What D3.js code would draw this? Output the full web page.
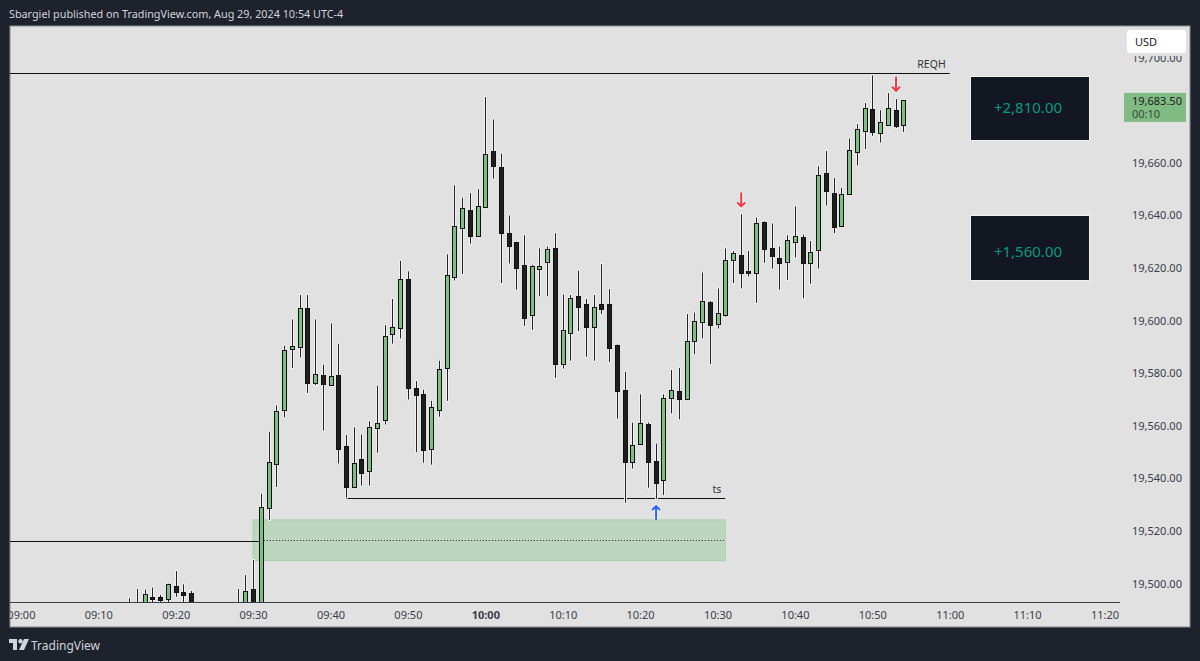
<!DOCTYPE html>
<html lang="en-US">
<head>
<meta charset="UTF-8" />
<title>Sbargiel published on TradingView.com</title>
<script src="https://cdnjs.cloudflare.com/ajax/libs/d3/7.8.5/d3.min.js"></script>
<style>
  html, body { margin: 0; padding: 0; background: #1e222d; }
  svg { display: block; }
  text { font-family: "Noto Sans", sans-serif; }
</style>
</head>
<body>
<svg id="chart" width="1200" height="661"></svg>
<script>
// 1 minute candles, 09:23 - 09:27 sit below the visible range so are left out
var times = ["09:14","09:15","09:16","09:17","09:18","09:19","09:20","09:21","09:22",
  "09:28","09:29","09:30","09:31","09:32","09:33","09:34","09:35","09:36","09:37","09:38","09:39",
  "09:40","09:41","09:42","09:43","09:44","09:45","09:46","09:47","09:48","09:49",
  "09:50","09:51","09:52","09:53","09:54","09:55","09:56","09:57","09:58","09:59",
  "10:00","10:01","10:02","10:03","10:04","10:05","10:06","10:07","10:08","10:09",
  "10:10","10:11","10:12","10:13","10:14","10:15","10:16","10:17","10:18","10:19",
  "10:20","10:21","10:22","10:23","10:24","10:25","10:26","10:27","10:28","10:29",
  "10:30","10:31","10:32","10:33","10:34","10:35","10:36","10:37","10:38","10:39",
  "10:40","10:41","10:42","10:43","10:44","10:45","10:46","10:47","10:48","10:49",
  "10:50","10:51","10:52","10:53","10:54"];
var opens = [19487,19490,19488,19494.75,19494.75,19493.75,19499,19496.5,19496.25,
  19490,19490,19497.75,19488,19528.5,19545.5,19565.75,19589,19589.75,19604.5,19576,19579,
  19575.25,19579.25,19552,19536.5,19547,19542.75,19559.25,19561.75,19594.5,19596.75,
  19615.5,19574.25,19571.75,19550.75,19566,19581.5,19616.5,19635,19641.75,19631.75,
  19643,19664.25,19658,19633.25,19629.5,19621,19602,19619.5,19622,19627.25,
  19583.5,19595.25,19609,19606.25,19597.5,19606,19606.25,19590.5,19573.5,19546,
  19553,19560.5,19546.5,19539,19570.5,19573,19570,19592,19599.25,19607,
  19598.5,19602.25,19623,19624.75,19618.75,19618,19637.25,19627.25,19623.75,19622,
  19629.5,19631.5,19621.5,19626.5,19655.75,19648.25,19635.5,19647.75,19663.75,19672,
  19680.25,19671.25,19674,19679.75,19674];
var highs = [19494.25,19497.75,19497.5,19498.25,19495.5,19499.75,19504.5,19499.5,19497,
  19497.75,19503,19508.75,19534,19557.5,19567.5,19590.25,19600.25,19609.5,19609.5,19600.25,19583,
  19598.75,19591,19556.25,19559.25,19556.5,19561.5,19575,19598,19608,19622.5,
  19618.5,19576.75,19573.5,19569.25,19584.5,19625,19651.25,19646.5,19648.25,19649.75,
  19684.75,19676.25,19663.25,19639.75,19629.75,19632.25,19621,19627.25,19628,19633,
  19609.75,19609.5,19618.75,19608,19609.5,19621.25,19611.75,19590.75,19580.25,19561,
  19571.75,19561,19553,19571.75,19581,19581.75,19602.25,19602.75,19618,19607.25,
  19612,19627.25,19626.25,19640.25,19626.25,19639,19637.5,19636.75,19628,19632.25,
  19643.25,19632.5,19630,19658.5,19664.25,19654,19650.25,19669,19674.5,19682.5,
  19693,19679.75,19686.25,19684,19683.5];
var lows = [19484,19486,19486,19492,19492,19492,19494.75,19492.75,19488,
  19485,19488,19485,19486,19524,19536.5,19563,19581.75,19585.75,19572.25,19575.25,19558,
  19575,19545.5,19532.5,19536,19537,19537,19549.5,19560.25,19591,19593,
  19569.75,19549.75,19545.75,19545,19563.25,19569.25,19615,19617.5,19629,19631.5,
  19642.75,19653.75,19614,19621.5,19611.5,19597.75,19596.25,19609,19609,19578,
  19581.5,19584.5,19595.75,19586,19584.5,19602.25,19584,19562.5,19530.5,19543.5,
  19552.75,19536.25,19532,19533.5,19564.5,19562.25,19570,19587,19593,19583.25,
  19596.75,19601.25,19614,19612,19616.5,19606.5,19621.75,19619.5,19611.5,19615.25,
  19623.75,19608.25,19613.75,19619.5,19643.5,19633,19635.25,19647.5,19658.75,19665,
  19670,19667.5,19674,19673,19671.5];
var closes = [19486,19488,19496,19494,19493.5,19499.5,19496.75,19495.25,19490,
  19488,19497,19488,19529,19546,19565.5,19588.5,19590.25,19604.75,19576,19579.5,19575.5,
  19578.75,19551,19536.5,19545.5,19541.75,19559.5,19561,19593.75,19597.25,19615.5,
  19574,19571.5,19550.5,19566.75,19581.5,19617,19635.75,19642.5,19632,19643.25,
  19663.25,19658.5,19632.75,19628.25,19619.5,19601,19620.5,19620.5,19627,19583,
  19596.25,19608.5,19605,19597.5,19605,19604.25,19589.5,19573,19546,19552.5,
  19561,19546,19538,19570.25,19573.5,19570,19592,19599.5,19607.25,19598.25,
  19602.5,19623,19625.5,19618,19618,19637,19627,19624.25,19621.75,19630.25,
  19631.75,19621.75,19625.75,19655,19649,19635.5,19647.75,19664.5,19672.5,19680.75,
  19671.5,19675.25,19680.5,19673.75,19683.5];

var priceTicks = [19500,19520,19540,19560,19580,19600,19620,19640,19660,19700];
var timeTicks = ["09:00","09:10","09:20","09:30","09:40","09:50","10:00","10:10","10:20","10:30","10:40","10:50","11:00","11:10","11:20"];

var lastPrice = 19683.5;
var countdown = "00:10";
var titleText = "Sbargiel published on TradingView.com, Aug 29, 2024 10:54 UTC-4";

// annotations drawn on the chart
var levelLines = [
  {from: "08:58", to: "11:00", price: 19693.75, label: "REQH"},
  {from: "09:42", to: "10:31", price: 19532.5, label: "ts"},
  {from: "08:58", to: "09:31", price: 19516, label: ""}
];
var zone = {from: "09:30", to: "10:31", top: 19524, bottom: 19508.5, mid: 19516.25};
var arrows = [
  {time: "10:22", price: 19529.25, dir: "up", color: "#2962ff"},
  {time: "10:33", price: 19648.5, dir: "down", color: "#f23645"},
  {time: "10:53", price: 19692.5, dir: "down", color: "#f23645"}
];
var pnlLabels = ["+2,810.00", "+1,560.00"];

var W = 1200, H = 661;
var pane = {l: 10, t: 26, r: 1190, b: 627, axisY: 602};
var PAGE = "#1e222d", BG = "#e1e1e1", UP = "#7fbd84", DOWN = "#1e1e1e", LABEL = "#3a3e4a";
var BODY_W = 5;

var parseT = d3.timeParse("%H:%M");
var x = d3.scaleTime().domain([parseT("09:00"), parseT("11:20")]).range([20.9, 1104.5]);
var y = d3.scaleLinear().domain([19500, 19700]).range([583, 57]);

var svg = d3.select("#chart");
svg.append("rect").attr("width", W).attr("height", H).attr("fill", PAGE);
svg.append("rect").attr("x", pane.l).attr("y", pane.t)
  .attr("width", pane.r - pane.l).attr("height", pane.b - pane.t)
  .attr("fill", BG).attr("stroke", "#8a8d94").attr("stroke-width", 1);

var defs = svg.append("defs");
defs.append("clipPath").attr("id", "plot").append("rect")
  .attr("x", pane.l).attr("y", pane.t).attr("width", 1110).attr("height", pane.axisY - pane.t);
defs.append("clipPath").attr("id", "pane-clip").append("rect")
  .attr("x", pane.l).attr("y", pane.t).attr("width", pane.r - pane.l).attr("height", pane.b - pane.t);
var plot = svg.append("g").attr("clip-path", "url(#plot)");

// green zone and dotted mid line
plot.append("rect")
  .attr("x", x(parseT(zone.from))).attr("y", y(zone.top))
  .attr("width", x(parseT(zone.to)) - x(parseT(zone.from)))
  .attr("height", y(zone.bottom) - y(zone.top))
  .attr("fill", "#bcd7bd").attr("stroke", "#a9d0ab").attr("stroke-width", 1);
plot.append("line")
  .attr("x1", x(parseT("09:31"))).attr("x2", x(parseT(zone.to)))
  .attr("y1", Math.round(y(zone.mid)) + 0.5).attr("y2", Math.round(y(zone.mid)) + 0.5)
  .attr("stroke", "#222").attr("stroke-width", 1).attr("stroke-dasharray", "1 2");

// level lines
levelLines.forEach(function(d) {
  var yy = Math.round(y(d.price)) + 0.5;
  plot.append("line")
    .attr("x1", x(parseT(d.from))).attr("x2", x(parseT(d.to)))
    .attr("y1", yy).attr("y2", yy).attr("stroke", "#111").attr("stroke-width", 1);
  if (d.label) plot.append("text")
    .attr("x", x(parseT(d.to)) - 4).attr("y", yy - 6).attr("text-anchor", "end")
    .attr("font-size", 10.5).attr("fill", "#333").text(d.label);
});

// candles
var candles = times.map(function(t, i) {
  return {t: parseT(t), o: opens[i], h: highs[i], l: lows[i], c: closes[i]};
});
var g = plot.selectAll("g.candle").data(candles).enter().append("g").attr("class", "candle");
function cx(d) { return Math.round(x(d.t)) + 0.5; }
g.append("line").attr("class", "halo")
  .attr("x1", cx).attr("x2", cx)
  .attr("y1", function(d) { return y(d.h) - 1; }).attr("y2", function(d) { return y(d.l) + 1; })
  .attr("stroke", "#f1f1f1").attr("stroke-width", 3);
g.append("line")
  .attr("x1", cx).attr("x2", cx)
  .attr("y1", function(d) { return y(d.h); }).attr("y2", function(d) { return y(d.l); })
  .attr("stroke", "#222").attr("stroke-width", 1);
g.append("rect")
  .attr("x", function(d) { return cx(d) - (BODY_W - 1) / 2; })
  .attr("y", function(d) { return Math.round(y(Math.max(d.o, d.c))) + 0.5; })
  .attr("width", BODY_W - 1)
  .attr("height", function(d) { return Math.max(1, Math.round(Math.abs(y(d.o) - y(d.c)))); })
  .attr("fill", function(d) { return d.c >= d.o ? UP : DOWN; })
  .attr("stroke", "#111").attr("stroke-width", 1);

// arrows, price is the top end of the arrow
arrows.forEach(function(a) {
  var ax = x(parseT(a.time)) + 0.5, top = y(a.price), bot = top + 14;
  var p = "M" + ax + "," + top + "L" + ax + "," + bot;
  if (a.dir === "up") p += "M" + (ax - 4) + "," + (top + 4) + "L" + ax + "," + top + "L" + (ax + 4) + "," + (top + 4);
  else p += "M" + (ax - 4) + "," + (bot - 4) + "L" + ax + "," + bot + "L" + (ax + 4) + "," + (bot - 4);
  plot.append("path").attr("d", p).attr("fill", "none").attr("stroke", "#f4f4f4").attr("stroke-width", 4);
  plot.append("path").attr("d", p).attr("fill", "none").attr("stroke", a.color).attr("stroke-width", 2);
});

// time axis
svg.append("line").attr("x1", pane.l).attr("x2", 1120)
  .attr("y1", pane.axisY + 0.5).attr("y2", pane.axisY + 0.5).attr("stroke", "#3c4048");
var xAxis = d3.axisBottom(x)
  .tickValues(timeTicks.map(parseT))
  .tickSize(0).tickPadding(0)
  .tickFormat(d3.timeFormat("%H:%M"));
var xG = svg.append("g").attr("clip-path", "url(#pane-clip)").append("g")
  .attr("transform", "translate(0," + (pane.axisY + 9) + ")").call(xAxis);
xG.select(".domain").remove();
xG.selectAll("text").attr("font-size", 11).attr("fill", LABEL)
  .attr("font-family", '"Noto Sans", sans-serif')
  .attr("font-weight", function(d) { return d3.timeFormat("%H:%M")(d) === "10:00" ? 700 : 400; });

// price axis
var yAxis = d3.axisRight(y)
  .tickValues(priceTicks).tickSize(0).tickPadding(0)
  .tickFormat(d3.format(",.2f"));
var yG = svg.append("g").attr("transform", "translate(1132,0.5)").call(yAxis);
yG.select(".domain").remove();
yG.selectAll("text").attr("font-size", 11).attr("fill", LABEL)
  .attr("font-family", '"Noto Sans", sans-serif');

// USD button sits on top of the 19,700 label and hides its upper part
svg.append("rect").attr("x", 1124).attr("y", 27).attr("width", 65).attr("height", 29).attr("fill", BG);
svg.append("rect").attr("x", 1127).attr("y", 30).attr("width", 59).attr("height", 23).attr("rx", 3).attr("fill", "#fff");
svg.append("text").attr("x", 1135).attr("y", 45.5).attr("font-size", 11).attr("fill", "#222").text("USD");

// last price tag
var tagY = y(lastPrice);
svg.append("rect").attr("x", 1124).attr("y", tagY - 7.5).attr("width", 62).attr("height", 29).attr("fill", "#7fbb83");
svg.append("text").attr("x", 1132).attr("y", tagY + 4.5).attr("font-size", 11).attr("fill", "#222")
  .text(d3.format(",.2f")(lastPrice));
svg.append("text").attr("x", 1132).attr("y", tagY + 18).attr("font-size", 11).attr("fill", "#3a4a3a").text(countdown);

// P&L boxes
[{y: 76.5, h: 64, base: 112.5}, {y: 215.5, h: 65, base: 256.5}].forEach(function(b, i) {
  svg.append("rect").attr("x", 970.5).attr("y", b.y).attr("width", 119).attr("height", b.h)
    .attr("fill", "#131722").attr("stroke", "#f0f0f0").attr("stroke-width", 1);
  svg.append("text").attr("x", 1028).attr("y", b.base).attr("text-anchor", "middle")
    .attr("font-size", 15).attr("fill", "#089981").text(pnlLabels[i]);
});

// header and footer
svg.append("text").attr("x", 9).attr("y", 18).attr("font-size", 10.8).attr("fill", "#d1d4dc").text(titleText);
var logo = svg.append("g").attr("transform", "translate(9,639)").attr("fill", "#d1d4dc");
logo.append("path").attr("d", "M0,0H8V11H4V4H0Z");
logo.append("circle").attr("cx", 11.5).attr("cy", 2.2).attr("r", 2.2);
logo.append("path").attr("d", "M15,0H20L15,11H10Z");
svg.append("text").attr("x", 31).attr("y", 649.5).attr("font-size", 12).attr("fill", "#d1d4dc").text("TradingView");
</script>
</body>
</html>
